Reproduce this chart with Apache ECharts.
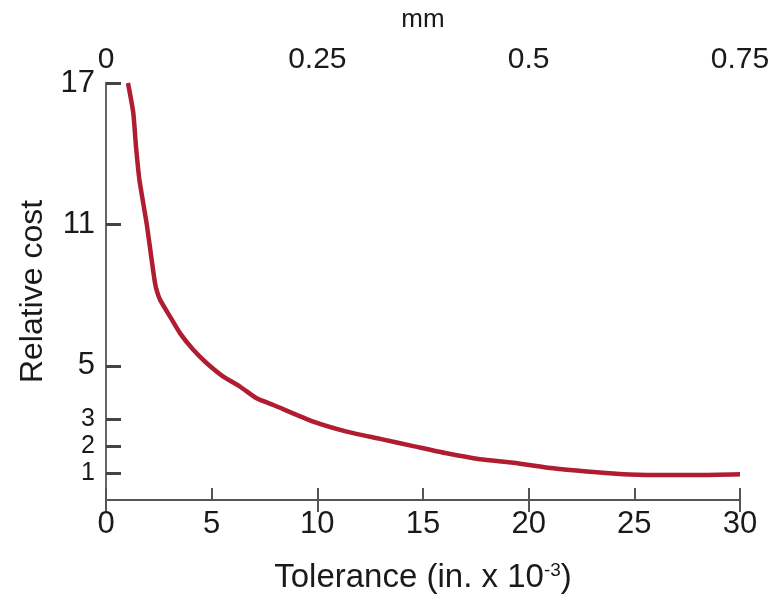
<!DOCTYPE html>
<html>
<head>
<meta charset="utf-8">
<script src="https://cdn.jsdelivr.net/npm/echarts@6/dist/echarts.min.js"></script>
<style>html,body{margin:0;padding:0;background:#fff}#c{width:771px;height:595px}</style>
</head>
<body>
<div id="c"></div>
<script>
// Data
const tolerance = [1.04, 1.29, 1.42, 1.58, 1.93, 2.16, 2.32, 2.42, 2.56, 3.03, 3.50, 4.13, 4.77, 5.55, 6.34, 7.13, 7.92, 9.81, 11.39, 12.97, 14.54, 16.12, 17.7, 19.28, 21.17, 22.75, 24.3, 25.9, 28.0, 30.0];
const cost      = [17.0, 15.74, 14.3, 12.9, 11.0, 9.5, 8.51, 8.14, 7.80, 7.09, 6.39, 5.68, 5.11, 4.60, 4.23, 3.79, 3.54, 2.92, 2.55, 2.28, 2.01, 1.74, 1.52, 1.39, 1.18, 1.06, 0.97, 0.93, 0.93, 0.96];
const costTicks = [1, 2, 3, 5, 11, 17];
const mmTicks   = [0, 0.25, 0.5, 0.75];
const tolTicks  = [0, 5, 10, 15, 20, 25, 30];

// The reference y-axis is piecewise linear (compressed above 5)
const K = 23.55 / 26.8;
const T = v => v <= 5 ? v : 5 + (v - 5) * K;
const Tinv = t => t <= 5 ? t : 5 + (t - 5) / K;

const FONT = 'Liberation Sans, Arial, sans-serif';
const TXT = '#1a1a1a';
const chart = echarts.init(document.getElementById('c'));
chart.setOption({
  animation: false,
  backgroundColor: '#fff',
  grid: { left: 106, right: 31, top: 83, bottom: 95, containLabel: false, outerBoundsMode: 'none' },
  xAxis: [
    {
      type: 'value', position: 'bottom', min: tolTicks[0], max: tolTicks[tolTicks.length - 1], interval: 5,
      axisLine: { show: true, lineStyle: { color: '#555', width: 2 } },
      axisTick: { show: true, inside: true, length: 12, lineStyle: { color: '#555', width: 2 } },
      splitLine: { show: false },
      axisLabel: { color: TXT, fontSize: 31, fontFamily: FONT, margin: 9, hideOverlap: false, showMinLabel: true, showMaxLabel: true },
      name: 'Tolerance (in. x 10{sup|-3})',
      nameLocation: 'middle', nameGap: 61,
      nameTextStyle: { color: TXT, fontSize: 33, fontFamily: FONT,
        rich: { sup: { fontSize: 19, fontFamily: FONT, color: TXT, verticalAlign: 'top', padding: [0, 0, 13, 0] } } }
    },
    {
      type: 'value', position: 'top', min: mmTicks[0], max: mmTicks[mmTicks.length - 1], interval: 0.25,
      axisLine: { show: false },
      axisTick: { show: true, inside: true, length: 12, lineStyle: { color: '#555', width: 2 } },
      splitLine: { show: false },
      axisLabel: { color: TXT, fontSize: 30, fontFamily: FONT, margin: 8, hideOverlap: false, showMinLabel: true, showMaxLabel: true,
        formatter: v => String(Math.round(v * 100) / 100) },
      name: 'mm', nameLocation: 'middle', nameGap: 50,
      nameTextStyle: { color: TXT, fontSize: 26, fontFamily: FONT }
    }
  ],
  yAxis: [
    {
      type: 'value', position: 'left', min: 0, max: T(17),
      axisLine: { show: true, lineStyle: { color: '#555', width: 2 } },
      axisTick: { show: true, inside: true, length: 15, interval: 0, customValues: costTicks.map(T), lineStyle: { color: '#444', width: 3 } },
      splitLine: { show: false },
      axisLabel: { color: TXT, fontSize: 25, fontFamily: FONT, margin: 11, hideOverlap: false,
        interval: 0, showMinLabel: true, showMaxLabel: true,
        customValues: costTicks.map(T),
        formatter: v => { const n = Math.round(Tinv(v)); return n >= 5 ? '{b|' + n + '}' : String(n); },
        rich: { b: { fontSize: 31, fontFamily: FONT, color: TXT } } },
      name: 'Relative cost', nameLocation: 'middle', nameGap: 56, nameRotate: 90,
      nameTextStyle: { color: TXT, fontSize: 32, fontFamily: FONT }
    },
    {
      type: 'value', position: 'right', min: 0, max: T(17),
      axisLine: { show: true, lineStyle: { color: '#666', width: 2 } },
      axisTick: { show: false }, axisLabel: { show: false }, splitLine: { show: false }
    }
  ],
  series: [{
    type: 'line',
    xAxisIndex: 0, yAxisIndex: 0,
    data: tolerance.map((x, i) => [x, T(cost[i])]),
    showSymbol: false,
    smooth: 0.2,
    lineStyle: { color: '#b01c30', width: 4.5 }
  }]
});
</script>
</body>
</html>
